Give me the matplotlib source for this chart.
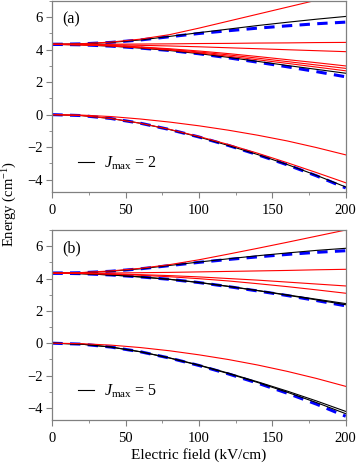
import matplotlib
matplotlib.use('Agg')
import matplotlib.pyplot as plt
from matplotlib.ticker import MultipleLocator

plt.rcParams['font.family'] = 'Liberation Serif'
plt.rcParams['mathtext.fontset'] = 'custom'
plt.rcParams['mathtext.rm'] = 'Liberation Serif'
plt.rcParams['mathtext.it'] = 'Liberation Serif:italic'

# electric field (kV/cm)
field = [0, 20, 40, 60, 80, 100, 120, 140, 160, 180, 200]

# ---- panel (a), Jmax = 2 ----
a_blue = [
    [4.33, 4.36, 4.45, 4.60, 4.80, 5.00, 5.17, 5.33, 5.47, 5.60, 5.70],
    [4.33, 4.30, 4.22, 4.10, 3.95, 3.75, 3.50, 3.23, 2.95, 2.65, 2.33],
    [0.00, -0.06, -0.24, -0.53, -0.92, -1.38, -1.90, -2.47, -3.09, -3.77, -4.52],
]
a_black = [
    [4.33, 4.36, 4.45, 4.60, 4.82, 5.05, 5.27, 5.49, 5.69, 5.88, 6.05],
    [4.33, 4.30, 4.22, 4.10, 3.95, 3.76, 3.53, 3.28, 3.03, 2.79, 2.55],
    [0.00, -0.06, -0.24, -0.53, -0.92, -1.38, -1.90, -2.46, -3.07, -3.74, -4.46],
]
a_red = [
    [4.33, 4.37, 4.47, 4.65, 4.93, 5.33, 5.76, 6.19, 6.62, 7.05, 7.48],
    [4.33, 4.33, 4.34, 4.35, 4.36, 4.38, 4.39, 4.41, 4.42, 4.44, 4.45],
    [4.33, 4.32, 4.30, 4.27, 4.23, 4.18, 4.12, 4.06, 4.00, 3.94, 3.88],
    [4.33, 4.31, 4.26, 4.17, 4.06, 3.92, 3.76, 3.58, 3.39, 3.20, 3.00],
    [4.33, 4.31, 4.25, 4.15, 4.02, 3.86, 3.68, 3.48, 3.27, 3.06, 2.85],
    [4.33, 4.30, 4.23, 4.12, 3.98, 3.80, 3.60, 3.38, 3.16, 2.93, 2.70],
    [0.00, -0.03, -0.12, -0.27, -0.46, -0.69, -0.96, -1.27, -1.62, -2.03, -2.48],
    [0.00, -0.06, -0.24, -0.53, -0.91, -1.35, -1.84, -2.38, -2.96, -3.57, -4.20],
]

# ---- panel (b), Jmax = 5 ----
b_blue = [
    [4.33, 4.36, 4.45, 4.60, 4.80, 5.00, 5.18, 5.34, 5.49, 5.62, 5.72],
    [4.33, 4.30, 4.22, 4.10, 3.95, 3.75, 3.50, 3.23, 2.95, 2.64, 2.31],
    [0.00, -0.06, -0.24, -0.53, -0.92, -1.38, -1.90, -2.47, -3.09, -3.77, -4.52],
]
b_black = [
    [4.33, 4.36, 4.45, 4.60, 4.81, 5.02, 5.22, 5.41, 5.58, 5.74, 5.87],
    [4.33, 4.30, 4.22, 4.10, 3.95, 3.76, 3.52, 3.26, 2.99, 2.72, 2.45],
    [4.33, 4.30, 4.22, 4.10, 3.95, 3.75, 3.51, 3.25, 2.97, 2.68, 2.38],
    [0.00, -0.06, -0.24, -0.53, -0.92, -1.37, -1.88, -2.43, -3.03, -3.67, -4.36],
    [0.00, -0.06, -0.24, -0.53, -0.91, -1.35, -1.85, -2.39, -2.96, -3.57, -4.22],
]
b_red = [
    [4.33, 4.37, 4.47, 4.63, 4.86, 5.16, 5.51, 5.87, 6.24, 6.62, 7.00],
    [4.33, 4.33, 4.34, 4.36, 4.38, 4.41, 4.44, 4.47, 4.50, 4.54, 4.57],
    [4.33, 4.32, 4.29, 4.24, 4.18, 4.10, 4.00, 3.90, 3.78, 3.66, 3.54],
    [4.33, 4.31, 4.27, 4.20, 4.11, 3.99, 3.85, 3.68, 3.50, 3.30, 3.09],
    [0.00, -0.03, -0.12, -0.27, -0.47, -0.72, -1.01, -1.35, -1.74, -2.18, -2.67],
]

panels = [
    ('(a)', '$J_{\\rm max}$ = 2', a_blue, a_black, a_red),
    ('(b)', '$J_{\\rm max}$ = 5', b_blue, b_black, b_red),
]

fig = plt.figure(figsize=(3.59, 4.68), dpi=100)
axes = [fig.add_axes([0.1457, 0.5904, 0.8173, 0.4074]),
        fig.add_axes([0.1457, 0.1026, 0.8173, 0.4059])]

gray = '#808080'
for ax, (tag, lab, blues, blacks, reds) in zip(axes, panels):
    for y in blues:
        ax.plot(field, y, color='#0000ff', lw=2.2, dashes=(3.4, 2.4))
    for y in blacks:
        h, = ax.plot(field, y, color='black', lw=0.8)
    for y in reds:
        ax.plot(field, y, color='#ff0000', lw=0.8)

    ax.set_xlim(0, 200)
    ax.set_ylim(-4.75, 7)
    ax.xaxis.set_major_locator(MultipleLocator(50))
    ax.xaxis.set_minor_locator(MultipleLocator(25))
    ax.yaxis.set_major_locator(MultipleLocator(2))
    ax.yaxis.set_minor_locator(MultipleLocator(1))
    ax.tick_params(which='both', direction='out', color=gray, labelsize=10.5,
                   top=False, right=False)
    ax.tick_params(which='major', length=4, pad=3)
    ax.tick_params(which='minor', length=2.2)
    ax.tick_params(axis='x', pad=5)
    for s in ax.spines.values():
        s.set_color(gray)
        s.set_linewidth(0.9)

    ax.text(0.035, 0.905, tag, transform=ax.transAxes, fontsize=11.5,
            va='center', ha='left')
    ax.legend([h], [lab], loc='lower left', bbox_to_anchor=(0.04, 0.03),
              frameon=False, handlelength=1.0, handletextpad=0.6, fontsize=11.5)

axes[1].set_xlabel('Electric field (kV/cm)', fontsize=11, labelpad=2)
fig.text(0.028, 0.564, 'Energy (cm$^{-1}$)', rotation=90, fontsize=10.5,
         ha='center', va='center')

fig.savefig('out.png', dpi=100)
